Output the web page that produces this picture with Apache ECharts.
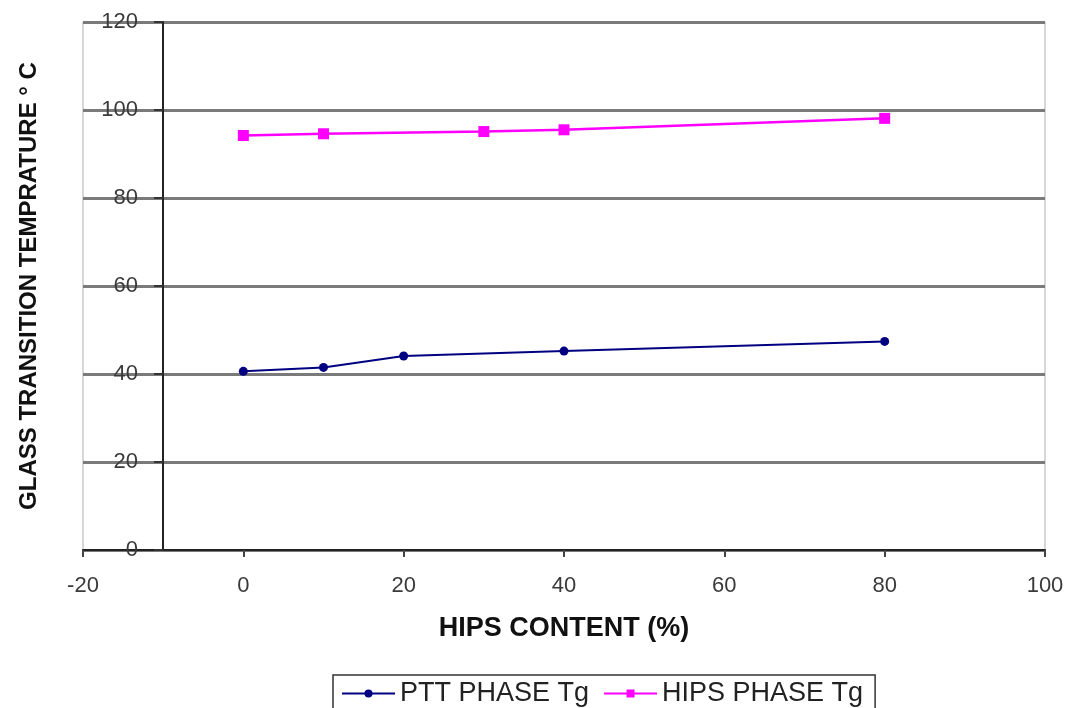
<!DOCTYPE html>
<html>
<head>
<meta charset="utf-8">
<script src="https://cdn.jsdelivr.net/npm/echarts@6/dist/echarts.min.js"></script>
<style>html,body{margin:0;padding:0;background:#fff}#c{width:1067px;height:708px}</style>
</head>
<body>
<div id="c"></div>
<script>
const pttX = [0, 10, 20, 40, 80];
const pttY = [40.6, 41.5, 44.1, 45.2, 47.4];
const hipsX = [0, 10, 30, 40, 80];
const hipsY = [94.2, 94.6, 95.1, 95.5, 98.1];
const seriesNames = ['PTT PHASE Tg', 'HIPS PHASE Tg'];
const xTitle = 'HIPS CONTENT (%)';
const yTitle = 'GLASS TRANSITION TEMPRATURE \u00b0 C';

const chart = echarts.init(document.getElementById('c'));
const font = 'Liberation Sans, Arial, sans-serif';
chart.setOption({
  animation: false,
  backgroundColor: '#fff',
  grid: {left: 83, right: 22, top: 22, bottom: 158, show: true, borderColor: '#b0b0b0', borderWidth: 1},
  xAxis: {
    type: 'value', min: -20, max: 100, interval: 20,
    name: xTitle, nameLocation: 'middle', nameGap: 65,
    nameTextStyle: {fontFamily: font, fontWeight: 'bold', fontSize: 27, color: '#111'},
    axisLine: {onZero: false, lineStyle: {color: '#222', width: 2}},
    axisTick: {show: true, length: 7, lineStyle: {color: '#444', width: 2}},
    axisLabel: {margin: 25, fontFamily: font, fontSize: 22, color: '#3a3a3a'},
    splitLine: {show: false}
  },
  yAxis: {
    type: 'value', min: 0, max: 120, interval: 20,
    offset: -80,
    name: yTitle, nameLocation: 'middle', nameGap: 122, nameRotate: 90,
    nameTextStyle: {fontFamily: font, fontWeight: 'bold', fontSize: 24, color: '#111'},
    axisLine: {show: true, onZero: false, lineStyle: {color: '#222', width: 2}},
    axisTick: {show: true, length: 9, lineStyle: {color: '#333', width: 2}},
    axisLabel: {margin: 25, fontFamily: font, fontSize: 22, color: '#3a3a3a'},
    splitLine: {show: true, lineStyle: {color: '#7a7a7a', width: 3}}
  },
  legend: {
    left: 333, top: 675, width: 560,
    itemGap: 14, itemWidth: 53, itemHeight: 10,
    padding: [5, 12, 10, 8],
    borderColor: '#333', borderWidth: 1.5,
    textStyle: {fontFamily: font, fontSize: 27, color: '#222'},
    data: seriesNames
  },
  series: [
    {
      name: seriesNames[0], type: 'line',
      data: pttX.map((x, i) => [x, pttY[i]]),
      symbol: 'circle', symbolSize: 9,
      lineStyle: {color: '#000080', width: 2},
      itemStyle: {color: '#000080'}
    },
    {
      name: seriesNames[1], type: 'line',
      data: hipsX.map((x, i) => [x, hipsY[i]]),
      symbol: 'rect', symbolSize: 11,
      lineStyle: {color: '#ff00ff', width: 2.5},
      itemStyle: {color: '#ff00ff'}
    }
  ]
});
</script>
</body>
</html>
